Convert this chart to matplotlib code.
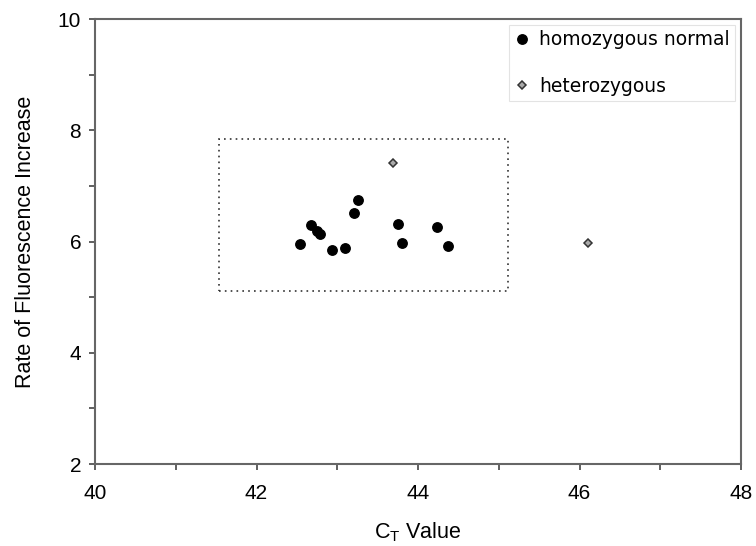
import numpy as np
import matplotlib.pyplot as plt
from matplotlib.patches import Rectangle
from matplotlib.ticker import MultipleLocator

# data
homo_ct = [42.54, 42.68, 42.75, 42.79, 42.93, 43.10, 43.21, 43.26, 43.75, 43.80, 44.24, 44.37]
homo_rate = [5.95, 6.30, 6.19, 6.14, 5.85, 5.88, 6.51, 6.74, 6.31, 5.97, 6.26, 5.92]
hetero_ct = [43.69, 46.11]
hetero_rate = [7.42, 5.97]
box_ct = [41.53, 45.11]
box_rate = [5.11, 7.85]

plt.rcParams['font.family'] = ['Liberation Sans', 'DejaVu Sans']
fig = plt.figure(figsize=(7.56, 5.46), dpi=100)
ax = fig.add_axes([0.1257, 0.150, 0.8545, 0.815])

ax.add_patch(Rectangle((box_ct[0], box_rate[0]), box_ct[1] - box_ct[0], box_rate[1] - box_rate[0],
                       fill=False, ls=(0, (1, 2.5)), lw=1.2, ec='#333333', zorder=1))
ax.plot(homo_ct, homo_rate, 'o', color='black', ms=6.8, ls='none', label='homozygous normal', zorder=3)
ax.plot(hetero_ct, hetero_rate, 'D', mfc='#aaaaaa', mec='#333333', mew=1.1, ms=4.5, ls='none',
        label='heterozygous', zorder=3)

ax.set_xlim(40, 48)
ax.set_ylim(2, 10)
ax.xaxis.set_major_locator(MultipleLocator(2))
ax.xaxis.set_minor_locator(MultipleLocator(1))
ax.yaxis.set_major_locator(MultipleLocator(2))
ax.yaxis.set_minor_locator(MultipleLocator(1))
ax.tick_params(which='both', direction='out', length=4, width=1.2, color='#444444', labelsize=15, pad=6)
ax.tick_params(axis='x', pad=10)
for s in ax.spines.values():
    s.set_color('#666666')
    s.set_linewidth(1.5)

ax.set_xlabel('C$_\\mathregular{T}$ Value', fontsize=15.5, labelpad=13)
ax.set_ylabel('Rate of Fluorescence Increase', fontsize=15.5, labelpad=16)

leg = ax.legend(loc='upper right', frameon=True, fancybox=False, borderaxespad=0.3,
                labelspacing=1.45, handletextpad=0.5, handlelength=0.8, borderpad=0.3,
                prop={'family': 'DejaVu Sans', 'size': 13.5})
leg.get_frame().set_edgecolor('#dddddd')
leg.get_frame().set_linewidth(0.8)

fig.savefig('out.png', dpi=100)
